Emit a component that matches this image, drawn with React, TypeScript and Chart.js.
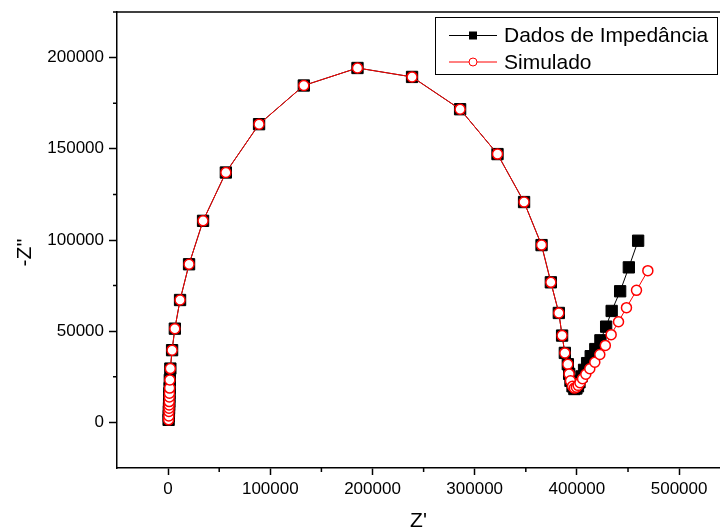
import React, { useEffect, useRef } from "react";
import { Chart, registerables } from "chart.js";

Chart.register(...registerables);

const DATA_LABEL = "Dados de Impedância";
const SIM_LABEL = "Simulado";
const X_TITLE = "Z'";
const Y_TITLE = "-Z''";

// Dados de Impedância (experimental)
const DATA_X = [
  500, 700, 800, 900, 1000, 1100, 1200, 1300, 1500, 1700, 2200, 3900, 6600, 11700, 20500,
  34200, 56500, 89000, 132800, 185300, 238700, 285700, 322300, 348300, 365400, 374500,
  382300, 385500, 388200, 391100, 392400, 393700, 395700,
  397500, 399500, 401000, 402500, 404500, 407000, 410000, 413500, 418000, 423000, 428600,
  434000, 442300, 450800, 459900,
];
const DATA_Y = [
  1400, 3500, 6000, 7800, 9600, 11400, 13900, 16000, 18800, 23300, 29500, 39600, 51400, 67100, 86700,
  110500, 137000, 163500, 184700, 194300, 189400, 171700, 147100, 120800, 97200, 76800,
  60000, 47600, 38100, 31900, 26600, 22800, 19800,
  18300, 18600, 19800, 22000, 25200, 28800, 32500, 36300, 40200, 45000, 52500,
  61100, 71900, 85000, 99600,
];

// Simulado (fit)
const SIM_X = [
  500, 700, 800, 900, 1000, 1100, 1200, 1300, 1500, 1700, 2200, 3900, 6600, 11700, 20500,
  34200, 56500, 89000, 132800, 185300, 238700, 285700, 322300, 348300, 365400, 374500,
  382300, 385500, 388200, 391100, 392400, 393700, 395700,
  397500, 399500, 401200, 403000, 405500, 408700, 412600, 417500, 422400, 427800, 433500,
  440700, 448500, 458300, 469400,
];
const SIM_Y = [
  1400, 3500, 6000, 7800, 9600, 11400, 13900, 16000, 18800, 23300, 29500, 39600, 51400, 67100, 86700,
  110500, 137000, 163500, 184700, 194300, 189400, 171700, 147100, 120800, 97200, 76800,
  60000, 47600, 38100, 31900, 26600, 22800, 19800,
  18800, 19300, 20300, 21800, 23900, 26400, 29400, 33000, 37200, 42200, 48100,
  55200, 62900, 72400, 83200,
];

const X_TICKS = [0, 100000, 200000, 300000, 400000, 500000];
const X_MINOR = [50000, 150000, 250000, 350000, 450000];
const Y_TICKS = [0, 50000, 100000, 150000, 200000];
const Y_MINOR = [25000, 75000, 125000, 175000];
const X_MIN = -50000;
const X_MAX = 540000;
const Y_MIN = -25000;
const Y_MAX = 225000;

const FONT = '"Liberation Sans", Arial, Helvetica, sans-serif';

const zeroPad = (s: any) => {
  s.paddingTop = 0;
  s.paddingBottom = 0;
  s.paddingLeft = 0;
  s.paddingRight = 0;
};

const framePlugin = {
  id: "originFrame",
  afterDraw(chart: any) {
    const { ctx, chartArea, scales } = chart;
    const xs = scales.x;
    const ys = scales.y;
    ctx.save();
    ctx.strokeStyle = "#000";
    ctx.lineWidth = 1.5;
    // top frame line
    ctx.beginPath();
    ctx.moveTo(chartArea.left - 4, chartArea.top);
    ctx.lineTo(chart.width, chartArea.top);
    ctx.stroke();
    // minor ticks
    ctx.beginPath();
    X_MINOR.forEach((v) => {
      const px = xs.getPixelForValue(v);
      ctx.moveTo(px, chartArea.bottom);
      ctx.lineTo(px, chartArea.bottom + 4);
    });
    Y_MINOR.forEach((v) => {
      const py = ys.getPixelForValue(v);
      ctx.moveTo(chartArea.left, py);
      ctx.lineTo(chartArea.left - 4, py);
    });
    ctx.stroke();

    // y title
    ctx.fillStyle = "#000";
    ctx.font = `21px ${FONT}`;
    ctx.textAlign = "center";
    ctx.textBaseline = "middle";
    ctx.translate(25.5, (chartArea.top + chartArea.bottom) / 2 + 12.5);
    ctx.rotate(-Math.PI / 2);
    ctx.fillText(Y_TITLE, 0, 0);
    ctx.restore();

    // legend
    ctx.save();
    const boxL = 435.5;
    const boxT = 17.5;
    const boxW = 282;
    const boxH = 57;
    ctx.fillStyle = "#fff";
    ctx.fillRect(boxL, boxT, boxW, boxH);
    ctx.strokeStyle = "#000";
    ctx.lineWidth = 1;
    ctx.strokeRect(boxL, boxT, boxW, boxH);
    const rows = [
      { ds: chart.data.datasets[0], y: 35.5, kind: "rect" },
      { ds: chart.data.datasets[1], y: 62, kind: "circle" },
    ];
    rows.forEach((r) => {
      ctx.strokeStyle = r.ds.borderColor;
      ctx.lineWidth = 1;
      ctx.beginPath();
      ctx.moveTo(449, r.y);
      ctx.lineTo(497, r.y);
      ctx.stroke();
      if (r.kind === "rect") {
        ctx.fillStyle = "#000";
        ctx.fillRect(469, r.y - 4, 8, 8);
      } else {
        ctx.fillStyle = "#fff";
        ctx.beginPath();
        ctx.arc(473, r.y, 4, 0, Math.PI * 2);
        ctx.fill();
        ctx.strokeStyle = r.ds.pointBorderColor;
        ctx.lineWidth = 1;
        ctx.stroke();
      }
      ctx.fillStyle = "#000";
      ctx.font = `21px ${FONT}`;
      ctx.textAlign = "left";
      ctx.textBaseline = "middle";
      ctx.fillText(r.ds.label, 504, r.y + 1);
    });
    ctx.restore();
  },
};

export default function App() {
  const ref = useRef<HTMLCanvasElement | null>(null);

  useEffect(() => {
    if (!ref.current) return;
    const dataPts = DATA_X.map((x, i) => ({ x, y: DATA_Y[i] }));
    const simPts = SIM_X.map((x, i) => ({ x, y: SIM_Y[i] }));
    const chart = new Chart(ref.current, {
      type: "scatter",
      data: {
        datasets: [
          {
            label: DATA_LABEL,
            data: dataPts,
            showLine: true,
            borderColor: "#000",
            borderWidth: 1,
            pointStyle: "rect",
            pointRadius: 8,
            pointBackgroundColor: "#000",
            pointBorderColor: "#000",
            pointBorderWidth: 1,
            tension: 0,
            order: 1,
          },
          {
            label: SIM_LABEL,
            data: simPts,
            showLine: true,
            borderColor: "#ff0000",
            borderWidth: 1,
            pointStyle: "circle",
            pointRadius: 5,
            pointBackgroundColor: "#fff",
            pointBorderColor: "#ff0000",
            pointBorderWidth: 1.5,
            tension: 0,
            order: 0,
          },
        ],
      },
      options: {
        animation: false,
        responsive: false,
        devicePixelRatio: 1,
        layout: { autoPadding: false, padding: { top: 12, right: 0, left: 0, bottom: 0 } },
        plugins: {
          legend: { display: false },
          tooltip: { enabled: false },
        },
        scales: {
          x: {
            type: "linear",
            min: X_MIN,
            max: X_MAX,
            bounds: "data",
            afterBuildTicks: (s: any) => {
              s.ticks = X_TICKS.map((v) => ({ value: v }));
              s.min = X_MIN;
              s.max = X_MAX;
            },
            afterFit: (s: any) => {
              s.height = 64;
              zeroPad(s);
            },
            ticks: {
              callback: (v: any) => String(v),
              font: { family: FONT, size: 17 },
              color: "#000",
              padding: 4,
              maxRotation: 0,
              autoSkip: false,
              includeBounds: false,
            },
            grid: {
              drawOnChartArea: false,
              drawTicks: true,
              tickLength: 7,
              tickWidth: 1.5,
              tickColor: "#000",
            },
            border: { display: true, color: "#000", width: 1.5 },
            title: {
              display: true,
              text: X_TITLE,
              color: "#000",
              font: { family: FONT, size: 21, lineHeight: 1 },
              padding: { top: 0, bottom: 0 },
            },
          },
          y: {
            type: "linear",
            min: Y_MIN,
            max: Y_MAX,
            bounds: "data",
            afterBuildTicks: (s: any) => {
              s.ticks = Y_TICKS.map((v) => ({ value: v }));
              s.min = Y_MIN;
              s.max = Y_MAX;
            },
            afterFit: (s: any) => {
              s.width = 117;
              zeroPad(s);
            },
            ticks: {
              callback: (v: any) => String(v),
              font: { family: FONT, size: 17 },
              color: "#000",
              padding: 5,
              autoSkip: false,
              includeBounds: false,
            },
            grid: {
              drawOnChartArea: false,
              drawTicks: true,
              tickLength: 8,
              tickWidth: 1.5,
              tickColor: "#000",
            },
            border: { display: true, color: "#000", width: 1.5 },
            title: { display: false },
          },
        },
      },
      plugins: [framePlugin],
    } as any);
    return () => chart.destroy();
  }, []);

  return (
    <div style={{ position: "fixed", left: 0, top: 0, width: 720, height: 532, background: "#fff" }}>
      <canvas ref={ref} width={720} height={532} style={{ display: "block", width: 720, height: 532 }} />
    </div>
  );
}
